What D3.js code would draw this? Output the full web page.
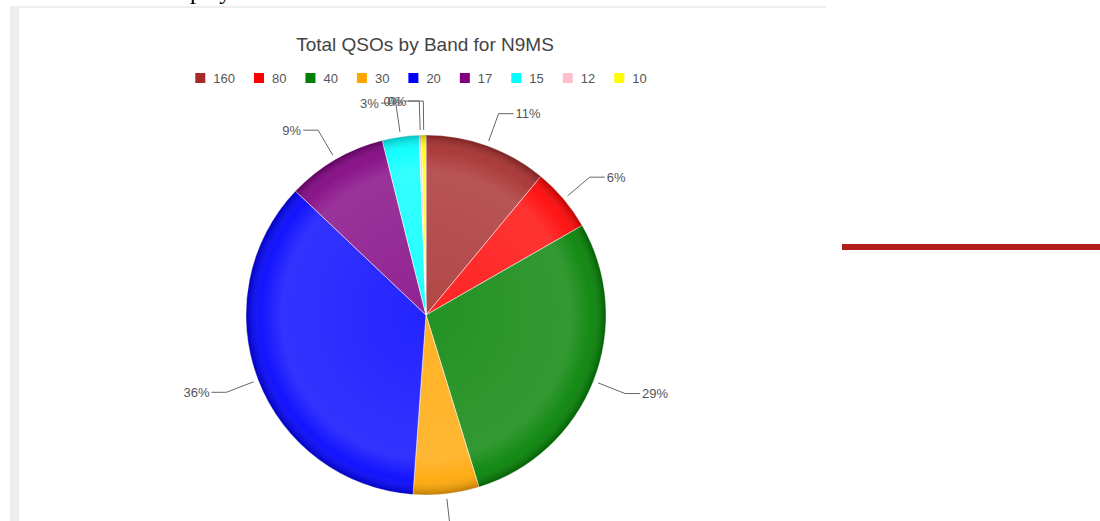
<!DOCTYPE html>
<html>
<head>
<meta charset="utf-8">
<script src="https://cdn.jsdelivr.net/npm/d3@7"></script>
<style>
  body { margin: 0; background: #fff; overflow: hidden; }
  svg { display: block; font-family: Arial, "Liberation Sans", sans-serif; }
</style>
</head>
<body>
<div id="chart"></div>
<script>
// QSO counts per band
var bands = ["160", "80", "40", "30", "20", "17", "15", "12", "10"];
var qsos = [110, 57, 285, 59, 359, 90, 33, 2, 4];
var bandColors = ["#a52a2a", "#ff0000", "#008000", "#ffa500", "#0000ff", "#800080", "#00ffff", "#ffc0cb", "#ffff00"];
var chartTitle = "Total QSOs by Band for N9MS";

var width = 1100, height = 521;
var cx = 426, cy = 315, radius = 180;

var svg = d3.select("#chart").append("svg")
    .attr("width", width)
    .attr("height", height);

// page around the chart
svg.append("rect").attr("x", 10).attr("y", 6).attr("width", 816).attr("height", height)
    .attr("fill", "#eeeeee");
svg.append("rect").attr("x", 19).attr("y", 8).attr("width", 807).attr("height", height)
    .attr("fill", "#ffffff");
svg.append("rect").attr("x", 842).attr("y", 244).attr("width", 258).attr("height", 6)
    .attr("fill", "#b21f19");
svg.append("text").attr("x", 190).attr("y", -1)
    .style("font-family", "'Liberation Serif', 'Times New Roman', serif")
    .style("font-size", "24px").attr("fill", "#000")
    .text("play");

// title
svg.append("text")
    .attr("x", cx - 1).attr("y", 51)
    .attr("text-anchor", "middle")
    .style("font-size", "19px")
    .attr("fill", "#444")
    .text(chartTitle);

// legend
var legend = svg.append("g");
var lx = 0;
bands.forEach(function(b, i) {
    var g = legend.append("g").attr("transform", "translate(" + lx + ",0)");
    g.append("rect").attr("x", 0).attr("y", -5).attr("width", 10).attr("height", 10)
        .attr("fill", bandColors[i]);
    var t = g.append("text").attr("x", 18).attr("y", 0).attr("dy", "0.36em")
        .style("font-size", "13px").attr("fill", "#555").text(b);
    lx += 18 + t.node().getComputedTextLength() + 19;
});
lx -= 19;
legend.attr("transform", "translate(" + (421 - lx / 2) + ",78)");

// pie
var total = d3.sum(qsos);
var pie = d3.pie().sort(null).value(function(d) { return d; });
var arcs = pie(qsos);
var arc = d3.arc().innerRadius(0).outerRadius(radius);

var defs = svg.append("defs");
var grad = defs.append("radialGradient").attr("id", "shade")
    .attr("cx", "50%").attr("cy", "50%").attr("r", "50%");
[[0, "#fff", 0.14], [0.8, "#fff", 0.2], [0.92, "#fff", 0.08], [1, "#000", 0.25]].forEach(function(s) {
    grad.append("stop").attr("offset", s[0]).attr("stop-color", s[1]).attr("stop-opacity", s[2]);
});

var pieG = svg.append("g").attr("transform", "translate(" + cx + "," + cy + ")");

pieG.selectAll(".slice")
    .data(arcs)
    .enter().append("path")
    .attr("class", "slice")
    .attr("d", arc)
    .attr("fill", function(d, i) { return bandColors[i]; })
    .attr("stroke", "#fff")
    .attr("stroke-width", 0.5);

pieG.append("circle").attr("r", radius).attr("fill", "url(#shade)");

// leader lines and labels
function pt(a, r) { return [Math.sin(a) * r, -Math.cos(a) * r]; }

arcs.forEach(function(d, i) {
    var mid = (d.startAngle + d.endAngle) / 2;
    var p0 = pt(mid, radius + 5);
    var p1 = pt(mid, radius + 34);
    var right = p1[0] >= 0;
    var p2 = [p1[0] + (right ? 15 : -15), p1[1]];
    pieG.append("path")
        .attr("d", d3.line()([p0, p1, p2]))
        .attr("fill", "none")
        .attr("stroke", "#666")
        .attr("stroke-width", 1);
    pieG.append("text")
        .attr("x", p2[0] + (right ? 2 : -2))
        .attr("y", p2[1])
        .attr("dy", "0.36em")
        .attr("text-anchor", right ? "start" : "end")
        .style("font-size", "13px")
        .attr("fill", "#555")
        .text(Math.round(qsos[i] / total * 100) + "%");
});
</script>
</body>
</html>
